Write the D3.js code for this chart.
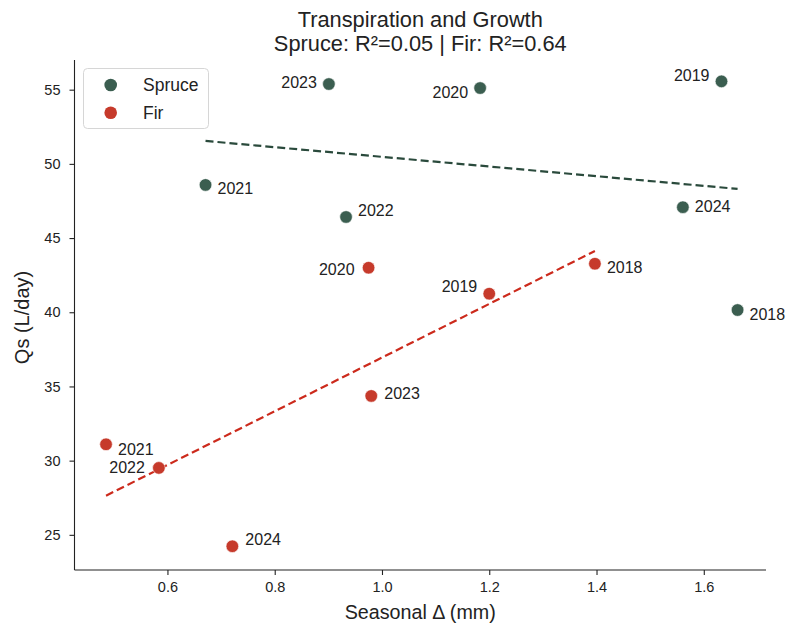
<!DOCTYPE html>
<html><head><meta charset="utf-8">
<script src="https://cdn.jsdelivr.net/npm/d3@7"></script>
<style>
body{margin:0;background:#fff;}
text{font-family:"Liberation Sans",Arial,Helvetica,sans-serif;fill:#222;}
</style></head>
<body><svg id="c" width="788" height="627"></svg>
<script>
const years = [2018, 2019, 2020, 2021, 2022, 2023, 2024];
const spruceX = [1.663, 1.633, 1.183, 0.671, 0.933, 0.901, 1.561];
const spruceY = [40.15, 55.56, 55.11, 48.58, 46.42, 55.38, 47.08];
const firX = [1.397, 1.200, 0.975, 0.4855, 0.584, 0.980, 0.721];
const firY = [43.27, 41.25, 43.00, 31.10, 29.51, 34.36, 24.23];
// label offsets (dx, dy, anchor) per year
const spruceLab = [[12,4,"start"],[-12,-6,"end"],[-12,4,"end"],[12,3,"start"],[12,-7,"start"],[-12,-2,"end"],[12,-1,"start"]];
const firLab = [[12,4,"start"],[-12,-7,"end"],[-14,2,"end"],[12,5,"start"],[-14,-1,"end"],[13,-3,"start"],[13,-7,"start"]];
const xTicks = [0.6, 0.8, 1.0, 1.2, 1.4, 1.6];
const yTicks = [25, 30, 35, 40, 45, 50, 55];
const titleLines = ["Transpiration and Growth", "Spruce: R²=0.05 | Fir: R²=0.64"];
const xLabel = "Seasonal Δ (mm)";
const yLabel = "Qs (L/day)";
const seriesNames = ["Spruce", "Fir"];
const colors = {Spruce: "#3b5e50", Fir: "#c63a2b"};
const lineColors = {Spruce: "#2a4a3c", Fir: "#cc2a1c"};

const svg = d3.select("#c");
const L = 74.5, R = 766, T = 60, B = 570;
const x = d3.scaleLinear().domain([0.4267, 1.716]).range([L, R]);
const y = d3.scaleLinear().domain([22.63, 57.0]).range([B, T]);

const gx = svg.append("g").attr("transform", `translate(0,${B})`)
  .call(d3.axisBottom(x).tickValues(xTicks).tickFormat(d3.format(".1f")).tickSizeOuter(0).tickSize(5).tickPadding(7));
const gy = svg.append("g").attr("transform", `translate(${L},0)`)
  .call(d3.axisLeft(y).tickValues(yTicks).tickFormat(d3.format("d")).tickSizeOuter(0).tickSize(5).tickPadding(9));
[gx, gy].forEach(g => {
  g.selectAll("text").attr("font-size", 14.5).style("fill", "#222").attr("font-family", "Liberation Sans, Arial");
  g.selectAll("line,path").attr("stroke", "#222").attr("stroke-width", 1.1);
});
gx.select(".domain").attr("d", `M${L},0H${R}`);
gy.select(".domain").attr("d", `M0,${B}V${T}`);

function fit(xs, ys) {
  const mx = d3.mean(xs), my = d3.mean(ys);
  let sxy = 0, sxx = 0;
  xs.forEach((v, i) => { sxy += (v - mx) * (ys[i] - my); sxx += (v - mx) ** 2; });
  const m = sxy / sxx, b = my - m * mx;
  const [x0, x1] = d3.extent(xs);
  return [[x0, m * x0 + b], [x1, m * x1 + b]];
}

const series = [
  {name: "Spruce", xs: spruceX, ys: spruceY, lab: spruceLab},
  {name: "Fir", xs: firX, ys: firY, lab: firLab}
];
const line = d3.line().x(d => x(d[0])).y(d => y(d[1]));
series.forEach(s => {
  svg.append("path").attr("d", line(fit(s.xs, s.ys)))
    .attr("fill", "none").attr("stroke", lineColors[s.name]).attr("stroke-width", 2.2)
    .attr("stroke-dasharray", "8,4");
});
series.forEach(s => {
  s.xs.forEach((v, i) => {
    svg.append("circle").attr("cx", x(v)).attr("cy", y(s.ys[i])).attr("r", 6.3)
      .attr("fill", colors[s.name]).attr("stroke", "#fff").attr("stroke-width", 0.6);
    const [dx, dy, anc] = s.lab[i];
    svg.append("text").attr("x", x(v) + dx).attr("y", y(s.ys[i]) + dy)
      .attr("dy", "0.35em").attr("text-anchor", anc).attr("font-size", 16).text(years[i]);
  });
});

// title
titleLines.forEach((t, i) => {
  svg.append("text").attr("x", (L + R) / 2).attr("y", 26.5 + i * 24)
    .attr("text-anchor", "middle").attr("font-size", 21.8).text(t);
});
svg.append("text").attr("x", (L + R) / 2).attr("y", 619).attr("text-anchor", "middle")
  .attr("font-size", 19.7).text(xLabel);
svg.append("text").attr("transform", `translate(29,${317.5}) rotate(-90)`)
  .attr("text-anchor", "middle").attr("font-size", 20).text(yLabel);

// legend
const lg = svg.append("g");
lg.append("rect").attr("x", 83.5).attr("y", 68.5).attr("width", 125).attr("height", 60).attr("rx", 4)
  .attr("fill", "#fff").attr("fill-opacity", 0.8).attr("stroke", "#d6d6d6");
seriesNames.forEach((n, i) => {
  lg.append("circle").attr("cx", 110.7).attr("cy", 85 + i * 27.7).attr("r", 6.3).attr("fill", colors[n]);
  lg.append("text").attr("x", 143).attr("y", 85 + i * 27.7).attr("dy", "0.35em").attr("font-size", 17.5).text(n);
});
</script></body></html>
